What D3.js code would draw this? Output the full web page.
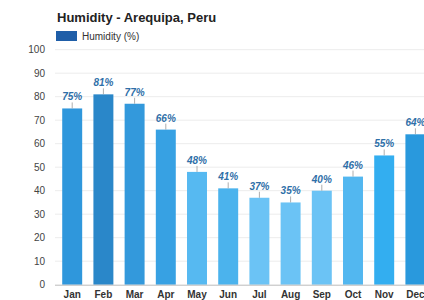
<!DOCTYPE html>
<html><head><meta charset="utf-8">
<script src="https://cdn.jsdelivr.net/npm/d3@7"></script>
<style>body{margin:0;background:#fff;}svg{display:block;font-family:Arial,"Liberation Sans",sans-serif;}</style>
</head><body>
<svg id="c" width="424" height="300"></svg>
<script>
const months = ["Jan","Feb","Mar","Apr","May","Jun","Jul","Aug","Sep","Oct","Nov","Dec"];
const humidity = [75,81,77,66,48,41,37,35,40,46,55,64];
const barColors = ["#2f97dc","#2a87c9","#3399dc","#37a1e3","#56b9f1","#4bb3ed","#6bc3f5","#6bc3f5","#6bc3f5","#52b7f0","#33aef0","#2999dd"];
const yTicks = [0,10,20,30,40,50,60,70,80,90,100];

const svg = d3.select("#c");
const x = d3.scaleBand().domain(months).range([56.6, 431]).paddingInner(0.36).paddingOuter(0.18);
const y = d3.scaleLinear().domain([0,100]).range([284.7, 49.7]);

// grid
svg.append("g").selectAll("line").data(yTicks.slice(1)).join("line")
  .attr("x1",55).attr("x2",424).attr("y1",d=>y(d)).attr("y2",d=>y(d))
  .attr("stroke","#ececec").attr("stroke-width",1);

// y axis labels
const ya = svg.append("g").attr("transform","translate(45,0)")
  .call(d3.axisLeft(y).tickValues(yTicks).tickSize(0).tickPadding(0));
ya.select(".domain").remove();
ya.selectAll("text").attr("font-size",10).attr("fill","#444").attr("font-family","Arial, 'Liberation Sans', sans-serif");

// bars
svg.append("g").selectAll("rect").data(humidity).join("rect")
  .attr("x",(d,i)=>x(months[i])).attr("width",x.bandwidth())
  .attr("y",d=>y(d)).attr("height",d=>y(0)-y(d))
  .attr("fill",(d,i)=>barColors[i]);

// connectors
svg.append("g").selectAll("line").data(humidity).join("line")
  .attr("x1",(d,i)=>x(months[i])+x.bandwidth()/2).attr("x2",(d,i)=>x(months[i])+x.bandwidth()/2)
  .attr("y1",d=>y(d)).attr("y2",d=>y(d)-6)
  .attr("stroke","#999").attr("stroke-width",0.8);

// value labels
svg.append("g").selectAll("text").data(humidity).join("text")
  .attr("x",(d,i)=>x(months[i])+x.bandwidth()/2).attr("y",d=>y(d)-8)
  .attr("text-anchor","middle").attr("font-size",10).attr("font-weight","bold").attr("font-style","italic")
  .attr("fill","#2f6fa8").text(d=>d+"%");

// x axis
svg.append("line").attr("x1",55).attr("x2",424).attr("y1",y(0)+0.5).attr("y2",y(0)+0.5).attr("stroke","#bbb");
const xa = svg.append("g").attr("transform",`translate(0,${y(0)})`)
  .call(d3.axisBottom(x).tickSize(0).tickPadding(6));
xa.select(".domain").remove();
xa.selectAll("text").attr("font-size",10).attr("font-weight","bold").attr("fill","#333").attr("font-family","Arial, 'Liberation Sans', sans-serif");

// title and legend
svg.append("text").attr("x",57).attr("y",22).attr("font-size",13).attr("font-weight","bold").attr("fill","#222").text("Humidity - Arequipa, Peru");
svg.append("rect").attr("x",56).attr("y",31).attr("width",21).attr("height",10).attr("fill","#1f5ea8");
svg.append("text").attr("x",82).attr("y",40).attr("font-size",10).attr("fill","#333").text("Humidity (%)");
</script>
</body></html>
